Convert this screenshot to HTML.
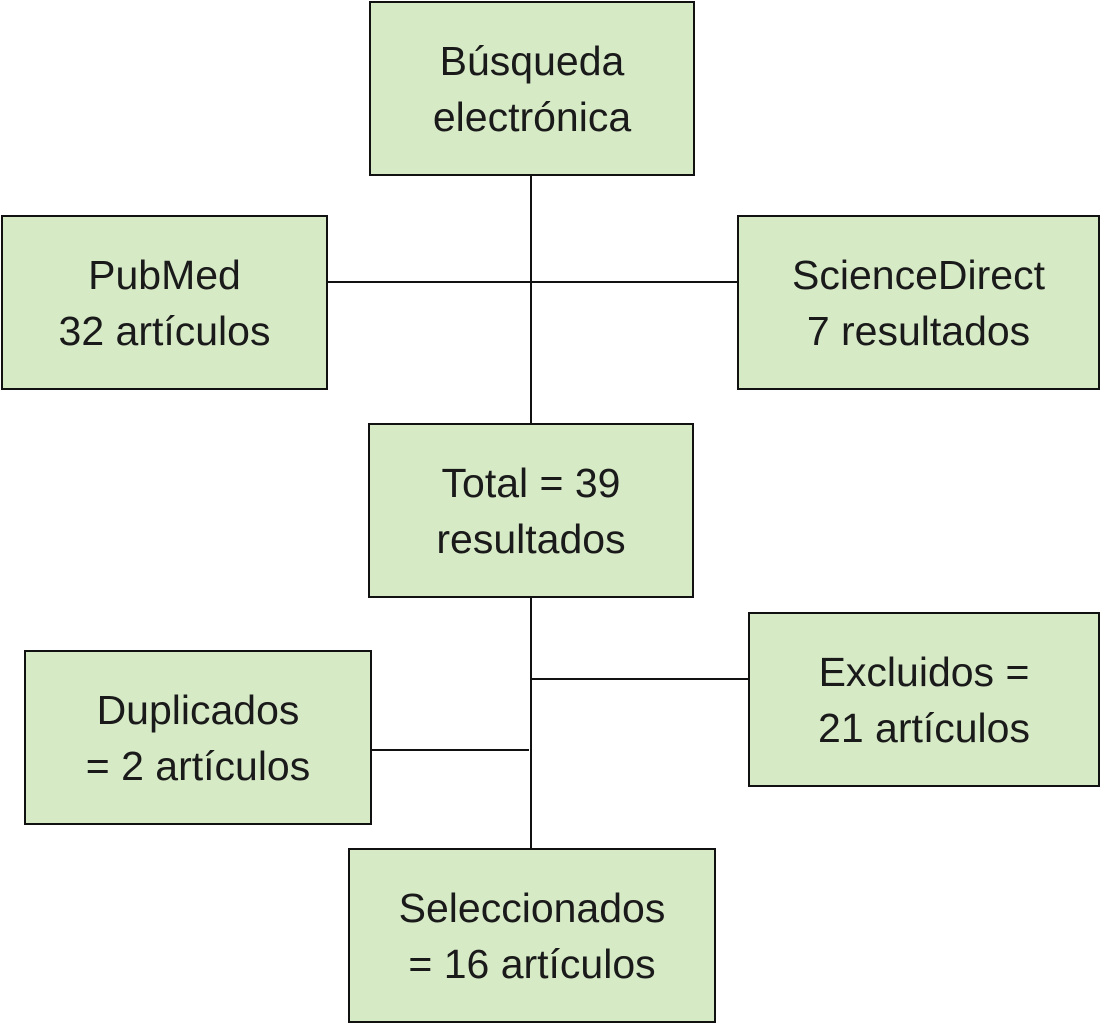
<!DOCTYPE html>
<html><head><meta charset="utf-8"><style>
body{margin:0;width:1100px;height:1024px;background:#fff;position:relative;overflow:hidden;font-family:"Liberation Sans",sans-serif;}
.b{position:absolute;box-sizing:border-box;border:2px solid #111;background:#d6eac6;display:flex;align-items:center;justify-content:center;text-align:center;font-size:41px;line-height:56px;color:#1a1a1a;}
.l{position:absolute;background:#111;}
</style></head><body>
<div class="l" style="left:530px;top:174px;width:2px;height:250px"></div>
<div class="l" style="left:326px;top:281px;width:412px;height:2px"></div>
<div class="l" style="left:530px;top:596px;width:2px;height:253px"></div>
<div class="l" style="left:531px;top:678px;width:218px;height:2px"></div>
<div class="l" style="left:370px;top:749px;width:159px;height:2px"></div>
<div class="b" style="left:369px;top:1px;width:326px;height:175px">Búsqueda<br>electrónica</div>
<div class="b" style="left:1px;top:215px;width:327px;height:175px">PubMed<br>32 artículos</div>
<div class="b" style="left:737px;top:215px;width:363px;height:175px">ScienceDirect<br>7 resultados</div>
<div class="b" style="left:368px;top:423px;width:326px;height:175px">Total = 39<br>resultados</div>
<div class="b" style="left:748px;top:612px;width:352px;height:175px">Excluidos =<br>21 artículos</div>
<div class="b" style="left:24px;top:650px;width:348px;height:175px">Duplicados<br>= 2 artículos</div>
<div class="b" style="left:348px;top:848px;width:368px;height:175px">Seleccionados<br>= 16 artículos</div>
</body></html>
